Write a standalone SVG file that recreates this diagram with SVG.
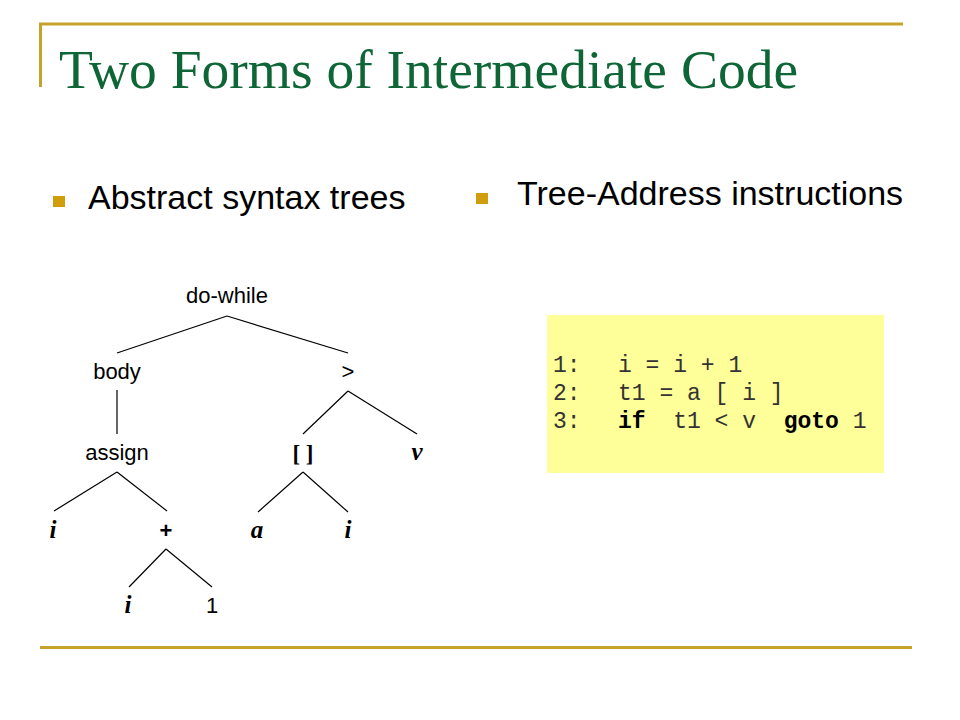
<svg xmlns="http://www.w3.org/2000/svg" width="960" height="720" viewBox="0 0 960 720">
<style>
.rule{stroke:#C6A22A;stroke-width:3;fill:none}
.title{font-family:"Liberation Serif","Times New Roman",serif;font-size:55.5px;fill:#0E6636}
.bul{font-family:"Liberation Sans",Arial,sans-serif;font-size:34px;fill:#000}
.sq{fill:#D09E0C}
.lbl{font-family:"Liberation Sans",Arial,sans-serif;font-size:22px;fill:#000;text-anchor:middle}
.var{font-family:"Liberation Serif","Times New Roman",serif;font-size:25px;font-weight:bold;font-style:italic;fill:#000;text-anchor:middle}
.brk{font-family:"Liberation Serif","Times New Roman",serif;font-size:23px;font-weight:bold;fill:#000;text-anchor:middle}
.edge{stroke:#000;stroke-width:1.2;fill:none}
.code{font-family:"Liberation Mono","Courier New",monospace;font-size:23px;fill:#333;white-space:pre}
.kw{font-weight:bold;fill:#000}
</style>
<rect width="960" height="720" fill="#fff"/>
<g id="frame">
<line class="rule" x1="39" y1="24" x2="903" y2="24"/>
<line class="rule" x1="40.5" y1="23" x2="40.5" y2="87"/>
<line class="rule" x1="40" y1="647.5" x2="912" y2="647.5"/>
</g>
<g id="title"><text class="title" x="59" y="88">Two Forms of Intermediate Code</text></g>
<g id="bullet1">
<rect class="sq" x="53" y="196" width="12" height="11"/>
<text class="bul" x="88" y="209">Abstract syntax trees</text>
</g>
<g id="bullet2">
<rect class="sq" x="476" y="193" width="12" height="11"/>
<text class="bul" x="517" y="205">Tree-Address instructions</text>
</g>
<g id="connectors">
<line class="edge" x1="227" y1="316" x2="117" y2="353"/>
<line class="edge" x1="227" y1="316" x2="348" y2="353"/>
<line class="edge" x1="117" y1="390" x2="117" y2="434"/>
<line class="edge" x1="348" y1="391" x2="303" y2="434"/>
<line class="edge" x1="348" y1="391" x2="417" y2="434"/>
<line class="edge" x1="117" y1="472" x2="54" y2="511"/>
<line class="edge" x1="117" y1="472" x2="167" y2="511"/>
<line class="edge" x1="303" y1="472" x2="258" y2="512"/>
<line class="edge" x1="303" y1="472" x2="348" y2="512"/>
<line class="edge" x1="166" y1="549" x2="129" y2="587"/>
<line class="edge" x1="166" y1="549" x2="212" y2="587"/>
</g>
<g id="n-dowhile"><text class="lbl" x="227" y="303">do-while</text></g>
<g id="n-body"><text class="lbl" x="117" y="379">body</text></g>
<g id="n-gt"><text class="lbl" x="348" y="379">&gt;</text></g>
<g id="n-assign"><text class="lbl" x="117" y="460">assign</text></g>
<g id="n-index"><text class="brk" x="303" y="461">[ ]</text></g>
<g id="n-v"><text class="var" x="417" y="460">v</text></g>
<g id="n-i1"><text class="var" x="53" y="538">i</text></g>
<g id="n-plus"><text class="lbl" x="166" y="538" font-weight="bold">+</text></g>
<g id="n-a"><text class="var" x="257" y="538">a</text></g>
<g id="n-i2"><text class="var" x="348" y="538">i</text></g>
<g id="n-i3"><text class="var" x="128" y="613">i</text></g>
<g id="n-one"><text class="lbl" x="212" y="613">1</text></g>
<g id="code">
<rect x="547" y="315" width="337" height="158" fill="#FFFF99"/>
<text class="code" y="372" xml:space="preserve"><tspan x="553">1:</tspan><tspan x="618">i = i + 1</tspan></text>
<text class="code" y="400" xml:space="preserve"><tspan x="553">2:</tspan><tspan x="618">t1 = a [ i ]</tspan></text>
<text class="code" y="428" xml:space="preserve"><tspan x="553">3:</tspan><tspan x="618" class="kw">if</tspan><tspan>  t1 &lt; v  </tspan><tspan class="kw">goto</tspan><tspan> 1</tspan></text>
</g>
</svg>
